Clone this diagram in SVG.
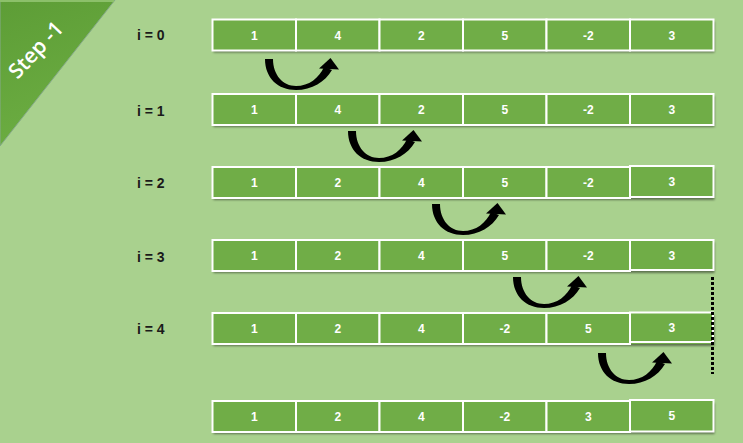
<svg xmlns="http://www.w3.org/2000/svg" width="743" height="443" viewBox="0 0 743 443">
<style>
.cell{fill:#70ad47;stroke:#ffffff;stroke-width:2}
.ct{font-family:"Liberation Sans",Arial,sans-serif;font-size:12px;font-weight:bold;fill:#ffffff;text-anchor:middle}
.lbl{font-family:"Liberation Sans",Arial,sans-serif;font-size:14px;font-weight:bold;fill:#1a1a1a}
.arr{fill:#000000}
</style>
<defs>
<linearGradient id="tri" x1="0" y1="0" x2="0.3" y2="1">
<stop offset="0" stop-color="#5d9d36"/>
<stop offset="1" stop-color="#6cad42"/>
</linearGradient>
<filter id="sh" x="-5%" y="-30%" width="110%" height="170%">
<feDropShadow dx="1" dy="2" stdDeviation="1" flood-color="#000000" flood-opacity="0.45"/>
</filter>
<g id="arrow">
<path class="arr" d="M0,0 C0,19 13,31 31,31 C47,31 60,23 67,11 L59,8 C54,19 44,27 31,27 C18,27 8,16 8,0 Z"/>
<path class="arr" d="M54,9.5 L65.5,-1 L74,10.5 Z"/>
</g>
</defs>
<rect x="0" y="0" width="743" height="443" fill="#a9d18e"/>
<g id="banner">
<polygon points="0,0 115,0 0,146" fill="url(#tri)" stroke="#86a98a" stroke-width="1"/>
<line x1="0" y1="1" x2="114" y2="1" stroke="#8cc06a" stroke-width="2"/>
<text transform="translate(36,50) rotate(-47)" x="0" y="7" text-anchor="middle" font-family="'Open Sans','Liberation Sans',sans-serif" font-size="21" font-weight="600" fill="#ffffff">Step -1</text>
</g>
<g id="labels">
<g id="label-0"><text class="lbl" x="137" y="40">i = 0</text></g>
<g id="label-1"><text class="lbl" x="137" y="116">i = 1</text></g>
<g id="label-2"><text class="lbl" x="137" y="188">i = 2</text></g>
<g id="label-3"><text class="lbl" x="137" y="262">i = 3</text></g>
<g id="label-4"><text class="lbl" x="137" y="334">i = 4</text></g>
</g>
<g id="row-0" transform="translate(212.5,19.5)">
<rect x="0" y="0" width="501" height="31" fill="#70ad47" filter="url(#sh)"/>
<rect class="cell" x="0" y="0" width="83.5" height="31"/><rect class="cell" x="83.5" y="0" width="83.5" height="31"/><rect class="cell" x="167" y="0" width="83.5" height="31"/><rect class="cell" x="250.5" y="0" width="83.5" height="31"/><rect class="cell" x="334" y="0" width="83.5" height="31"/><rect class="cell" x="417.5" y="0" width="83.5" height="31"/>
<text class="ct" x="41.75" y="20">1</text><text class="ct" x="125.25" y="20">4</text><text class="ct" x="208.75" y="20">2</text><text class="ct" x="292.25" y="20">5</text><text class="ct" x="375.75" y="20">-2</text><text class="ct" x="459.25" y="20">3</text>
</g>
<g id="row-1" transform="translate(212.5,94)">
<rect x="0" y="0" width="501" height="31" fill="#70ad47" filter="url(#sh)"/>
<rect class="cell" x="0" y="0" width="83.5" height="31"/><rect class="cell" x="83.5" y="0" width="83.5" height="31"/><rect class="cell" x="167" y="0" width="83.5" height="31"/><rect class="cell" x="250.5" y="0" width="83.5" height="31"/><rect class="cell" x="334" y="0" width="83.5" height="31"/><rect class="cell" x="417.5" y="0" width="83.5" height="31"/>
<text class="ct" x="41.75" y="20">1</text><text class="ct" x="125.25" y="20">4</text><text class="ct" x="208.75" y="20">2</text><text class="ct" x="292.25" y="20">5</text><text class="ct" x="375.75" y="20">-2</text><text class="ct" x="459.25" y="20">3</text>
</g>
<g id="row-2" transform="translate(212.5,167)">
<rect x="0" y="0" width="501" height="31" fill="#70ad47" filter="url(#sh)"/>
<rect class="cell" x="0" y="0" width="83.5" height="31"/><rect class="cell" x="83.5" y="0" width="83.5" height="31"/><rect class="cell" x="167" y="0" width="83.5" height="31"/><rect class="cell" x="250.5" y="0" width="83.5" height="31"/><rect class="cell" x="334" y="0" width="83.5" height="31"/><rect class="cell" x="417.5" y="-1" width="83.5" height="31"/>
<text class="ct" x="41.75" y="20">1</text><text class="ct" x="125.25" y="20">2</text><text class="ct" x="208.75" y="20">4</text><text class="ct" x="292.25" y="20">5</text><text class="ct" x="375.75" y="20">-2</text><text class="ct" x="459.25" y="19">3</text>
</g>
<g id="row-3" transform="translate(212.5,240)">
<rect x="0" y="0" width="501" height="31" fill="#70ad47" filter="url(#sh)"/>
<rect class="cell" x="0" y="0" width="83.5" height="31"/><rect class="cell" x="83.5" y="0" width="83.5" height="31"/><rect class="cell" x="167" y="0" width="83.5" height="31"/><rect class="cell" x="250.5" y="0" width="83.5" height="31"/><rect class="cell" x="334" y="0" width="83.5" height="31"/><rect class="cell" x="417.5" y="0" width="83.5" height="30"/>
<text class="ct" x="41.75" y="20">1</text><text class="ct" x="125.25" y="20">2</text><text class="ct" x="208.75" y="20">4</text><text class="ct" x="292.25" y="20">5</text><text class="ct" x="375.75" y="20">-2</text><text class="ct" x="459.25" y="20">3</text>
</g>
<g id="row-4" transform="translate(212.5,313)">
<rect x="0" y="0" width="501" height="31" fill="#70ad47" filter="url(#sh)"/>
<rect class="cell" x="0" y="0" width="83.5" height="31"/><rect class="cell" x="83.5" y="0" width="83.5" height="31"/><rect class="cell" x="167" y="0" width="83.5" height="31"/><rect class="cell" x="250.5" y="0" width="83.5" height="31"/><rect class="cell" x="334" y="0" width="83.5" height="31"/><rect class="cell" x="417.5" y="-0.5" width="83" height="29.5"/>
<text class="ct" x="41.75" y="20">1</text><text class="ct" x="125.25" y="20">2</text><text class="ct" x="208.75" y="20">4</text><text class="ct" x="292.25" y="20">-2</text><text class="ct" x="375.75" y="20">5</text><text class="ct" x="459.25" y="19">3</text>
</g>
<g id="row-5" transform="translate(212.5,401)">
<rect x="0" y="0" width="501" height="31" fill="#70ad47" filter="url(#sh)"/>
<rect class="cell" x="0" y="0" width="83.5" height="31"/><rect class="cell" x="83.5" y="0" width="83.5" height="31"/><rect class="cell" x="167" y="0" width="83.5" height="31"/><rect class="cell" x="250.5" y="0" width="83.5" height="31"/><rect class="cell" x="334" y="0" width="83.5" height="31"/><rect class="cell" x="417.5" y="-1" width="83.5" height="31.5"/>
<text class="ct" x="41.75" y="20">1</text><text class="ct" x="125.25" y="20">2</text><text class="ct" x="208.75" y="20">4</text><text class="ct" x="292.25" y="20">-2</text><text class="ct" x="375.75" y="20">3</text><text class="ct" x="459.25" y="19">5</text>
</g>
<g id="connectors">
<use href="#arrow" transform="translate(265,59)"/>
<use href="#arrow" transform="translate(348,131)"/>
<use href="#arrow" transform="translate(432,204)"/>
<use href="#arrow" transform="translate(513,277)"/>
<use href="#arrow" transform="translate(598,353)"/>
<line x1="712.5" y1="277" x2="712.5" y2="374" stroke="#000000" stroke-width="3" stroke-dasharray="3 2"/>
</g>
</svg>
